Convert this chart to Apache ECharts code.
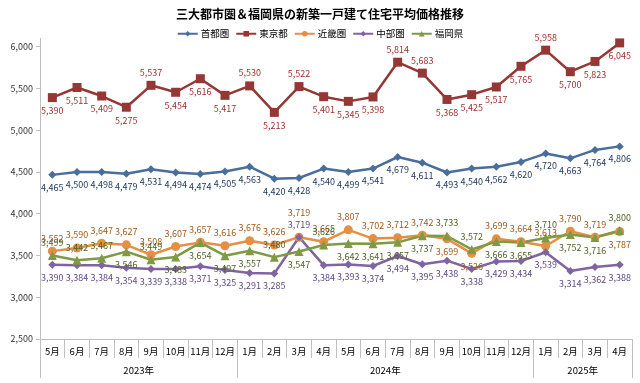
<!DOCTYPE html>
<html>
<head>
<meta charset="utf-8">
<script src="https://cdn.jsdelivr.net/npm/echarts@6/dist/echarts.min.js"></script>
<style>html,body{margin:0;padding:0;background:#fff}#c{width:640px;height:383px}</style>
</head>
<body>
<div id="c"></div>
<script>
// ---- data ----
const years = ['2023年', '2024年', '2025年'];
const months2023 = ['5月','6月','7月','8月','9月','10月','11月','12月'];
const months2024 = ['1月','2月','3月','4月','5月','6月','7月','8月','9月','10月','11月','12月'];
const months2025 = ['1月','2月','3月','4月'];
const monthGroups = [months2023, months2024, months2025];
const categories = monthGroups.flat();

const seriesNames = ['首都圏', '東京都', '近畿圏', '中部圏', '福岡県'];
const shutoken = [4465,4500,4498,4479,4531,4494,4474,4505,4563,4420,4428,4540,4499,4541,4679,4611,4493,4540,4562,4620,4720,4663,4764,4806];
const tokyo    = [5390,5511,5409,5275,5537,5454,5616,5417,5530,5213,5522,5401,5345,5398,5814,5683,5368,5425,5517,5765,5958,5700,5823,6045];
const kinki    = [3552,3590,3647,3627,3508,3607,3657,3616,3676,3626,3719,3665,3807,3702,3712,3742,3699,3526,3699,3664,3613,3790,3719,3787];
const chubu    = [3390,3384,3384,3354,3339,3338,3371,3325,3291,3285,3719,3384,3393,3374,3494,3395,3438,3338,3429,3434,3539,3314,3362,3388];
const fukuoka  = [3499,3442,3467,3546,3449,3483,3654,3497,3557,3480,3547,3626,3642,3641,3657,3737,3733,3572,3666,3655,3710,3752,3716,3800];
const yMin = 2500, yMax = 6100, yStep = 500;
const yTickValues = [2500, 3000, 3500, 4000, 4500, 5000, 5500, 6000];

// ---- styles ----
const labelSides = [
  'BBBBBBBBBBBBBBBBBBBBBBBB',
  'BBBBTBBBTBTBBBTTBBBBTBBB',
  'TTTTTTTTTTTTTTTTBBTTTTTB',
  'BBBBBBBBBBTBBBBBBBBBBBBB',
  'TTTBTBBBBTBTBBBBTTBBTBBT'
];
const lineColors  = ['#4A6E9C', '#953735', '#E58F45', '#8064A2', '#7E9A45'];
const labelColors = ['#1F3A60', '#9E2F2D', '#A0591A', '#5E4A86', '#4F6228'];
const symbols     = ['diamond', 'rect', 'circle', 'diamond', 'triangle'];
const symbolSizes = [8, 9, 9, 8, 9];
const values = [shutoken, tokyo, kinki, chubu, fukuoka];

// year spans
const spans = [];
let acc = 0;
monthGroups.forEach((g, i) => { spans.push({ start: acc, end: acc + g.length, name: years[i] }); acc += g.length; });
const yearTickVals = [0].concat(spans.map(s => s.end));
const yearLabelVals = spans.map(s => (s.start + s.end) / 2);

const fmt = v => v.toLocaleString('en-US');
const FONT = 'Noto Sans CJK JP';

const series = values.map((arr, si) => ({
  name: seriesNames[si],
  type: 'line',
  xAxisIndex: 0,
  data: arr.map((v, i) => {
    const lbl = { position: labelSides[si][i] === 'T' ? 'top' : 'bottom' };
    if (si === 2 && i === 10) lbl.distance = 16; // stacked above 中部圏 label
    return { value: v, label: lbl };
  }),
  symbol: symbols[si],
  symbolSize: symbolSizes[si],
  lineStyle: { color: lineColors[si], width: 2.5 },
  itemStyle: { color: lineColors[si] },
  label: {
    show: true,
    formatter: p => fmt(p.value),
    color: labelColors[si],
    fontSize: 9,
    fontFamily: FONT,
    distance: 4
  },
  emphasis: { disabled: true },
  animation: false
}));

const chart = echarts.init(document.getElementById('c'), null, { renderer: 'canvas' });
chart.setOption({
  animation: false,
  backgroundColor: '#fff',
  title: {
    text: '三大都市圏＆福岡県の新築一戸建て住宅平均価格推移',
    left: 'center', top: 3,
    textStyle: { fontSize: 12, fontWeight: 'bold', color: '#000', fontFamily: FONT }
  },
  legend: {
    data: seriesNames,
    top: 24, left: 'center',
    itemWidth: 20, itemHeight: 7, itemGap: 6,
    textStyle: { fontSize: 9.5, color: '#000', fontFamily: FONT, padding: [0, 0, 0, -2] }
  },
  grid: { left: 40, right: 8, top: 38.3, bottom: 44 },
  xAxis: [
    {
      type: 'category',
      data: categories,
      boundaryGap: true,
      axisLine: { show: true, lineStyle: { color: '#BFBFBF', width: 1 } },
      axisTick: { show: true, interval: 0, length: 19, lineStyle: { color: '#BFBFBF' } },
      axisLabel: { interval: 0, margin: 8, fontSize: 9.5, color: '#000', fontFamily: FONT },
      splitLine: { show: false }
    },
    {
      type: 'value',
      position: 'bottom',
      min: 0, max: categories.length,
      axisLine: { show: false },
      axisTick: { show: true, customValues: yearTickVals, length: 39, lineStyle: { color: '#BFBFBF' } },
      axisLabel: {
        customValues: yearLabelVals,
        formatter: v => { const s = spans.find(s => (s.start + s.end) / 2 === v); return s ? s.name : ''; },
        margin: 27, fontSize: 9.5, color: '#000', fontFamily: FONT
      },
      splitLine: { show: false }
    }
  ],
  yAxis: {
    type: 'value',
    min: yMin, max: yMax, interval: yStep,
    axisLine: { show: true, lineStyle: { color: '#BFBFBF' } },
    axisTick: { show: true, customValues: yTickValues, length: 4, lineStyle: { color: '#BFBFBF' } },
    axisLabel: { customValues: yTickValues, formatter: v => fmt(v), fontSize: 9, color: '#333', fontFamily: FONT, margin: 7 },
    splitLine: { show: false }
  },
  series: series
});
</script>
</body>
</html>
